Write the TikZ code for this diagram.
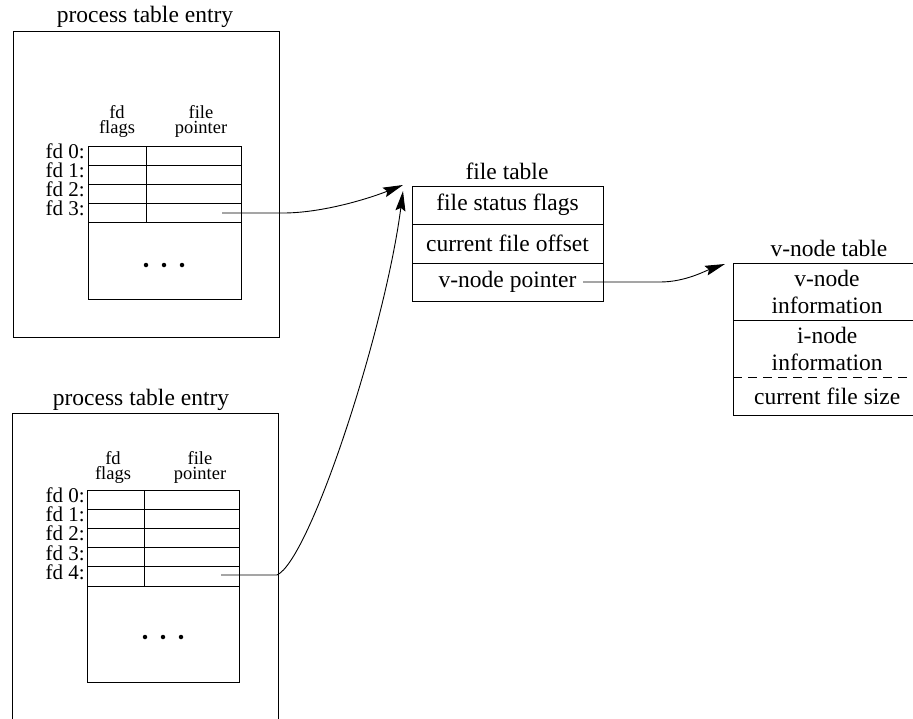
\documentclass[tikz,border=0pt]{standalone}
\usepackage{fontspec}
\setmainfont{Liberation Serif}
\usetikzlibrary{arrows.meta,calc}
\begin{document}
\begin{tikzpicture}[x=1pt,y=-1pt,
  box/.style={draw, line width=0.9pt, inner sep=0pt, outer sep=0pt, anchor=north west},
  big/.style={font=\fontsize{23.5}{27}\selectfont},
  hdr/.style={font=\fontsize{18.5}{15}\selectfont, align=center, inner sep=0pt, anchor=base},
  lbl/.style={font=\fontsize{21}{24}\selectfont, anchor=base east, inner sep=0pt},
  conn/.style={line width=0.9pt, -{Stealth[length=20pt,width=10pt,inset=3pt]}},
  dot/.style={circle, fill, inner sep=0pt, minimum size=4.5pt},
]
\clip (0,0) rectangle (913,718);
\useasboundingbox (0,0) rectangle (913,718);

% ---------- top process table entry ----------
\node[big, anchor=base] (tA) at (145,22) {process table entry};
\node[box, minimum width=266pt, minimum height=306pt] (pA) at (13,31) {};
\node[hdr] (aH1) at (117,133) {fd\\flags};
\node[hdr] (aH2) at (201,133) {file\\pointer};
\foreach \i in {0,...,3} {
  \node[box, minimum width=58pt, minimum height=19pt] (aF\i) at (88,{146+19*\i}) {};
  \node[box, minimum width=95pt, minimum height=19pt] (aP\i) at (146,{146+19*\i}) {};
  \node[lbl] (aL\i) at (85,{146+19*\i+12.5}) {fd \i:};
}
\node[box, minimum width=153pt, minimum height=77pt] (aD) at (88,222) {};
\node[dot] (aD1) at (146,265) {};
\node[dot] (aD2) at (164,265) {};
\node[dot] (aD3) at (182,265) {};

% ---------- bottom process table entry ----------
\node[big, anchor=base] (tB) at (141,405) {process table entry};
\node[box, minimum width=266pt, minimum height=330pt] (pB) at (12,413) {};
\node[hdr] (bH1) at (113,479) {fd\\flags};
\node[hdr] (bH2) at (200,479) {file\\pointer};
\foreach \i in {0,...,4} {
  \node[box, minimum width=57pt, minimum height=19.2pt] (bF\i) at (87,{490+19.2*\i}) {};
  \node[box, minimum width=95pt, minimum height=19.2pt] (bP\i) at (144,{490+19.2*\i}) {};
  \node[lbl] (bL\i) at (85,{490+19.2*\i+12.5}) {fd \i:};
}
\node[box, minimum width=152pt, minimum height=96pt] (bD) at (87,586) {};
\node[dot] (bD1) at (145,637) {};
\node[dot] (bD2) at (163,637) {};
\node[dot] (bD3) at (181,637) {};

% ---------- file table ----------
\node[big, anchor=base] (tF) at (507,179) {file table};
\node[box, big, minimum width=191pt, minimum height=38pt] (ft1) at (412,186) {file status flags};
\node[box, big, minimum width=191pt, minimum height=39pt] (ft2) at (412,224) {current file offset};
\node[box, big, minimum width=191pt, minimum height=38pt] (ft3) at (412,263) {v-node pointer};

% ---------- v-node table ----------
\node[big, anchor=base] (tV) at (829,256) {v-node table};
\node[box, big, align=center, minimum width=188pt, minimum height=57pt] (vt1) at (733,263) {v-node\\information};
\node[big, align=center, inner sep=0pt, anchor=north west, minimum width=188pt, minimum height=57pt] (vt2) at (733,320) {i-node\\information};
\node[big, inner sep=0pt, anchor=north west, minimum width=188pt, minimum height=38pt] (vt3) at (733,377) {current file size};
\draw[line width=0.9pt] (vt2.north west) -- (vt3.south west) -- (vt3.south east);
\draw[line width=0.9pt, dashed, dash pattern=on 9pt off 6pt] (vt3.north west) -- (vt3.north east);

% ---------- connectors ----------
\coordinate (s1) at (222,213);
\coordinate (k1) at (283,213);
\coordinate (e1) at (403,185);
\draw[conn] (s1) -- (k1) .. controls (320,213) and (365,200) .. (e1);

\coordinate (s2) at (221,575);
\coordinate (k2) at (277,575);
\coordinate (e2) at (403,191);
\draw[conn] (s2) -- (k2) .. controls (310,560) and (385,330) .. (e2);

\coordinate (s3) at (583,282);
\coordinate (k3) at (660,282);
\coordinate (e3) at (725,264);
\draw[conn] (s3) -- (k3) .. controls (685,282) and (705,271) .. (e3);
\end{tikzpicture}
\end{document}
